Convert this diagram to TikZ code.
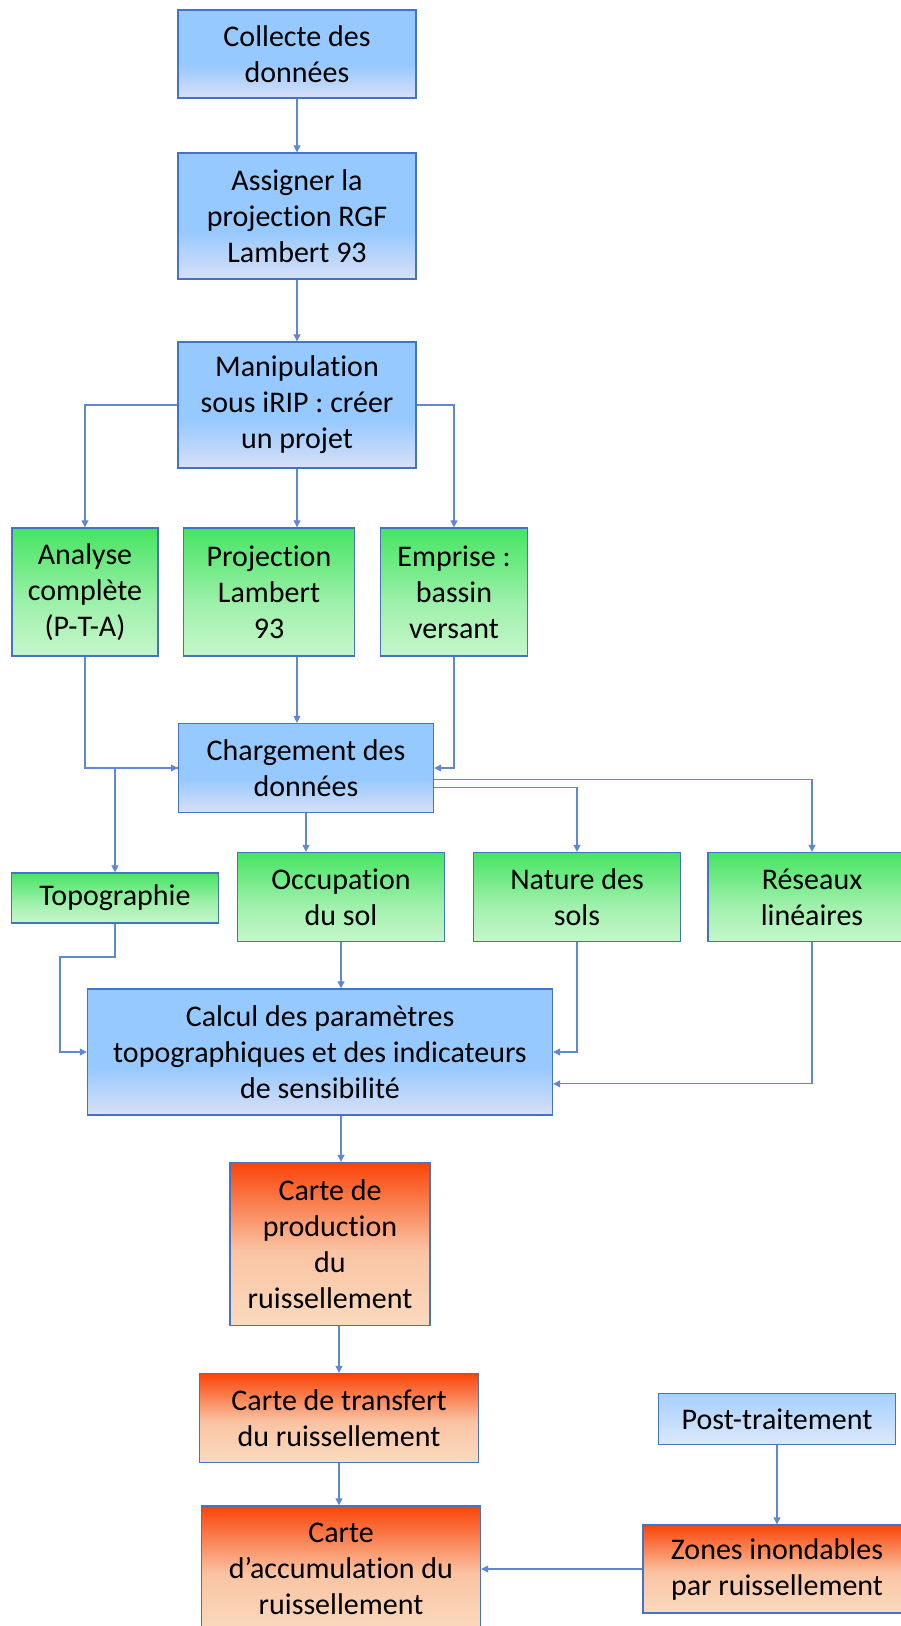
\documentclass[tikz,border=0pt]{standalone}
\usepackage{fontspec}
\setmainfont{Carlito}[Ligatures={NoCommon}]
\usetikzlibrary{arrows.meta,calc}

\definecolor{boxline}{RGB}{68,114,196}
\definecolor{linkcol}{RGB}{95,135,210}
\definecolor{bluetop}{RGB}{150,201,255}
\definecolor{bluebot}{RGB}{216,224,247}
\definecolor{greentop}{RGB}{70,228,98}
\definecolor{greenbot}{RGB}{198,246,203}
\definecolor{orangetop}{RGB}{250,68,8}
\definecolor{orangebot}{RGB}{250,218,190}
\definecolor{posttop}{RGB}{165,208,255}
\definecolor{postbot}{RGB}{220,232,250}

\pgfdeclareverticalshading{blueshade}{100bp}{color(0bp)=(bluebot); color(25bp)=(bluebot); color(44bp)=(bluetop); color(100bp)=(bluetop)}
\pgfdeclareverticalshading{greenshade}{100bp}{color(0bp)=(greenbot); color(25bp)=(greenbot); color(45bp)=(greenbot!70!greentop); color(75bp)=(greentop); color(100bp)=(greentop)}
\pgfdeclareverticalshading{orangeshade}{100bp}{color(0bp)=(orangebot); color(25bp)=(orangebot); color(48bp)=(orangebot!85!orangetop); color(75bp)=(orangetop); color(100bp)=(orangetop)}
\pgfdeclareverticalshading{postshade}{100bp}{color(0bp)=(postbot); color(25bp)=(postbot); color(75bp)=(posttop); color(100bp)=(posttop)}

\begin{document}
\begin{tikzpicture}[x=1pt,y=-1pt,
  box/.style={draw=boxline, line width=1.4pt, align=center, inner sep=0pt,
    font=\fontsize{30}{36}\selectfont, text=black},
  bluebox/.style={box, shading=blueshade},
  greenbox/.style={box, shading=greenshade},
  orangebox/.style={box, shading=orangeshade},
  postbox/.style={box, shading=postshade},
  sz/.style 2 args={minimum width=#1pt, minimum height=#2pt},
  link/.style={draw=linkcol, line width=1.1pt, -{Triangle[length=7pt,width=7pt]}}]
\useasboundingbox (0,0) rectangle (901,1626);

% etapes principales
\node[bluebox, sz={238}{88}] (collecte) at (297,54) {Collecte des\\données};
\node[bluebox, sz={238}{126}] (assigner) at (297,216) {Assigner la\\projection RGF\\Lambert 93};
\node[bluebox, sz={238}{126}] (manip) at (297,405) {Manipulation\\sous iRIP : créer\\un projet};

\node[greenbox, sz={146}{128}] (analyse) at (85,592) {Analyse\\complète\\(P-T-A)};
\node[greenbox, sz={171}{128}] (projlamb) at (269,592) {Projection\\Lambert\\93};
\node[greenbox, sz={147}{128}] (emprise) at (454,592) {Emprise :\\bassin\\versant};

\node[bluebox, sz={255}{89}] (chargement) at (306,768) {Chargement des\\données};

% couches de donnees
\node[greenbox, sz={207}{50}] (topo) at (115,898) {Topographie};
\node[greenbox, sz={207}{89}] (occup) at (341,897) {Occupation\\du sol};
\node[greenbox, sz={207}{89}] (nature) at (577,897) {Nature des\\sols};
\node[greenbox, sz={208}{89}] (reseaux) at (812,897) {Réseaux\\linéaires};

\node[bluebox, sz={465}{126}] (calcul) at (320,1052) {Calcul des paramètres\\topographiques et des indicateurs\\de sensibilité};

% cartes
\node[orangebox, sz={200}{163}] (production) at (330,1244) {Carte de\\production\\du\\ruissellement};
\node[orangebox, sz={279}{89}] (transfert) at (339,1418) {Carte de transfert\\du ruissellement};
\node[orangebox, sz={279}{126}] (accumul) at (341,1569) {Carte\\d’accumulation du\\ruissellement};

\node[postbox, sz={237}{51}] (posttrait) at (777,1419) {Post-traitement};
\node[orangebox, sz={268}{88}] (zones) at (777,1569) {Zones inondables\\par ruissellement};

\coordinate (topobend) at (60,957);

% liaisons
\draw[link] (collecte) -- (assigner);
\draw[link] (assigner) -- (manip);
\draw[link] (manip.west) -| (analyse.north);
\draw[link] (manip.south) -- (manip.south |- projlamb.north);
\draw[link] (manip.east) -| (emprise.north);
\draw[link] (analyse.south) |- (chargement.west);
\draw[link] (projlamb.south -| manip.south) -- (chargement.north -| manip.south);
\draw[link] (emprise.south) |- (chargement.east);
\draw[link] (chargement.west) -| (topo.north);
\draw[link] (chargement.south) -- (chargement.south |- occup.north);
\draw[link] ($(chargement.east)!0.44!(chargement.south east)$) -| (nature.north);
\draw[link] ($(chargement.east)!0.26!(chargement.south east)$) -| (reseaux.north);
\draw[link] (topo.south) |- (topobend) |- (calcul.west);
\draw[link] (occup.south) -- (occup.south |- calcul.north);
\draw[link] (nature.south) |- (calcul.east);
\draw[link] (reseaux.south) |- ($(calcul.east)!0.5!(calcul.south east)$);
\draw[link] (calcul.south -| occup.south) -- (production.north -| occup.south);
\draw[link] (transfert.north |- production.south) -- (transfert.north);
\draw[link] (transfert.south) -- (transfert.south |- accumul.north);
\draw[link] (posttrait) -- (zones);
\draw[link] (zones.west) -- (accumul.east);
\end{tikzpicture}
\end{document}
